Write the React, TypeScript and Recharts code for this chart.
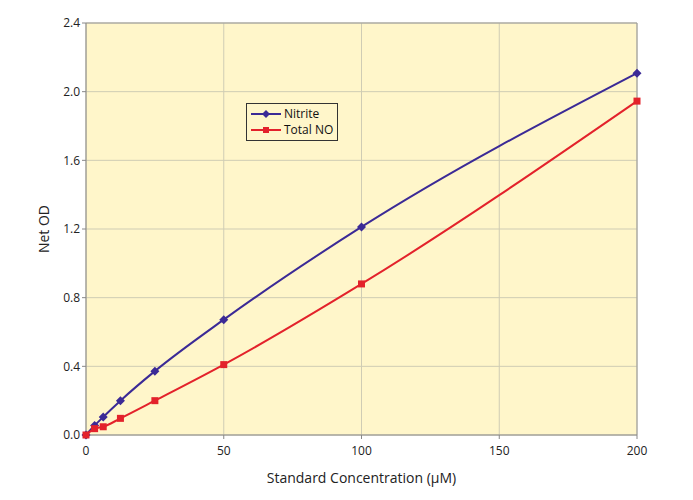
import React from 'react';
import { ComposedChart, Line, XAxis, YAxis, CartesianGrid, ReferenceLine, Label } from 'recharts';

const concentrations = [0, 3.125, 6.25, 12.5, 25, 50, 100, 200];
const nitriteOD = [0, 0.055, 0.105, 0.2, 0.372, 0.672, 1.212, 2.108];
const totalNoOD = [0, 0.037, 0.048, 0.097, 0.2, 0.41, 0.88, 1.945];
const xTicks = [0, 50, 100, 150, 200];
const yTicks = [0, 0.4, 0.8, 1.2, 1.6, 2.0, 2.4];

const data = concentrations.map((c, i) => ({ conc: c, nitrite: nitriteOD[i], totalNo: totalNoOD[i] }));

const BLUE = '#3b2a96';
const RED = '#e3222b';
const FONT = '"Open Sans", "Noto Sans", sans-serif';

const Diamond = (props: any) => {
  const { cx, cy } = props;
  if (cx == null || cy == null) return null;
  const r = 4.5;
  return <path d={`M${cx},${cy - r}L${cx + r},${cy}L${cx},${cy + r}L${cx - r},${cy}Z`} fill={BLUE} />;
};

const Square = (props: any) => {
  const { cx, cy } = props;
  if (cx == null || cy == null) return null;
  return <rect x={cx - 3.5} y={cy - 3.5} width={7} height={7} fill={RED} />;
};

const LegendBox = () => (
  <div style={{ position: 'absolute', left: 246, top: 103, border: '1px solid #333', background: '#fff6ca', padding: '2px 4px', fontFamily: FONT, fontSize: 12, color: '#111', whiteSpace: 'nowrap', lineHeight: '16px' }}>
    <div style={{ display: 'flex', alignItems: 'center', height: 16 }}>
      <svg width={30} height={10}>
        <line x1={0} y1={5} x2={30} y2={5} stroke={BLUE} strokeWidth={2} />
        <path d="M15,1L19,5L15,9L11,5Z" fill={BLUE} />
      </svg>
      <span style={{ marginLeft: 3 }}>Nitrite</span>
    </div>
    <div style={{ display: 'flex', alignItems: 'center', height: 16 }}>
      <svg width={30} height={10}>
        <line x1={0} y1={5} x2={30} y2={5} stroke={RED} strokeWidth={2} />
        <rect x={12} y={2} width={6} height={6} fill={RED} />
      </svg>
      <span style={{ marginLeft: 3 }}>Total NO</span>
    </div>
  </div>
);

export default function App() {
  return (
    <div style={{ position: 'absolute', left: 0, top: 0, width: 693, height: 500, background: '#fff' }}>
      <ComposedChart width={693} height={500} data={data} margin={{ top: 23, right: 56, left: 46, bottom: 35 }}>
        <CartesianGrid fill="#fff6ca" stroke="#cfccb4" />
        <XAxis
          dataKey="conc"
          type="number"
          domain={[0, 200]}
          ticks={xTicks}
          height={30}
          stroke="#888"
          tickSize={4}
          tick={{ fill: '#222', fontSize: 12, fontFamily: FONT, dy: 5 }}
        >
          <Label value="Standard Concentration (µM)" position="bottom" offset={8} style={{ fill: '#222', fontSize: 14, fontFamily: FONT }} />
        </XAxis>
        <YAxis
          type="number"
          domain={[0, 2.4]}
          ticks={yTicks}
          width={40}
          stroke="#888"
          tickSize={4}
          tickFormatter={(v: number) => v.toFixed(1)}
          tick={{ fill: '#222', fontSize: 12, fontFamily: FONT }}
        >
          <Label value="Net OD" angle={-90} position="insideLeft" offset={-2} style={{ fill: '#222', fontSize: 14, fontFamily: FONT, textAnchor: 'middle' }} />
        </YAxis>
        <ReferenceLine x={200} stroke="#999" />
        <ReferenceLine y={2.4} stroke="#999" />
        <Line type="monotone" dataKey="nitrite" name="Nitrite" stroke={BLUE} strokeWidth={2} dot={<Diamond />} activeDot={false} isAnimationActive={false} />
        <Line type="monotone" dataKey="totalNo" name="Total NO" stroke={RED} strokeWidth={2} dot={<Square />} activeDot={false} isAnimationActive={false} />
      </ComposedChart>
      <LegendBox />
    </div>
  );
}
